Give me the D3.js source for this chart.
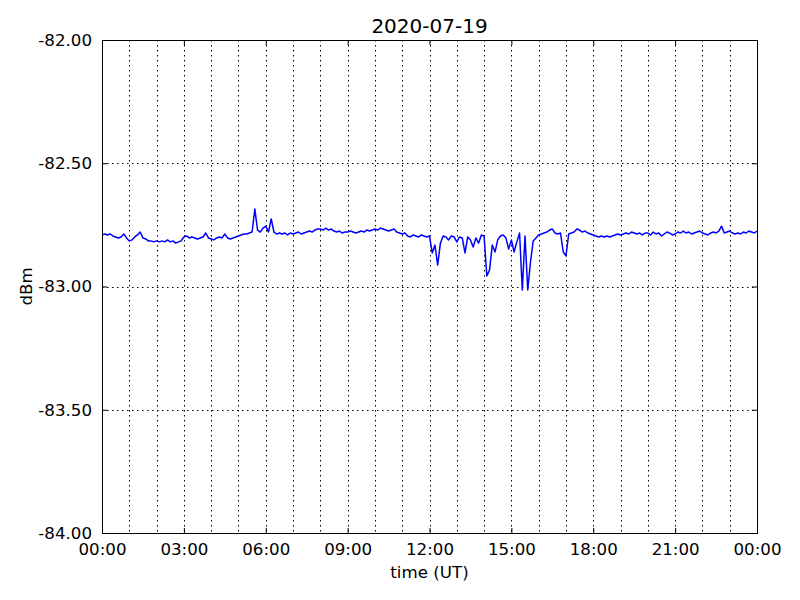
<!DOCTYPE html>
<html>
<head>
<meta charset="utf-8">
<script src="https://cdn.jsdelivr.net/npm/d3@7"></script>
<style>
  body { margin: 0; background: #fff; }
  svg text { font-family: "DejaVu Sans", sans-serif; fill: #000; }
</style>
</head>
<body>
<div id="chart"></div>
<script>
// one row per hour, samples every 6 minutes (dBm)
const hourRows = [
  [-82.791, -82.787, -82.791, -82.787, -82.795, -82.799, -82.803, -82.799, -82.787, -82.803],
  [-82.815, -82.811, -82.799, -82.791, -82.779, -82.803, -82.807, -82.815, -82.815, -82.819],
  [-82.815, -82.819, -82.815, -82.819, -82.811, -82.819, -82.815, -82.824, -82.819, -82.815],
  [-82.799, -82.795, -82.803, -82.799, -82.803, -82.807, -82.803, -82.799, -82.783, -82.803],
  [-82.807, -82.811, -82.803, -82.799, -82.803, -82.787, -82.803, -82.807, -82.803, -82.799],
  [-82.795, -82.791, -82.787, -82.787, -82.783, -82.779, -82.686, -82.771, -82.779, -82.763],
  [-82.755, -82.779, -82.726, -82.779, -82.787, -82.783, -82.787, -82.783, -82.791, -82.783],
  [-82.787, -82.783, -82.779, -82.787, -82.783, -82.779, -82.775, -82.779, -82.771, -82.767],
  [-82.767, -82.771, -82.763, -82.771, -82.767, -82.775, -82.779, -82.775, -82.783, -82.779],
  [-82.779, -82.775, -82.779, -82.783, -82.779, -82.775, -82.779, -82.771, -82.775, -82.771],
  [-82.767, -82.771, -82.763, -82.767, -82.771, -82.775, -82.771, -82.767, -82.779, -82.783],
  [-82.787, -82.783, -82.795, -82.799, -82.791, -82.795, -82.799, -82.791, -82.795, -82.799],
  [-82.795, -82.864, -82.832, -82.913, -82.824, -82.795, -82.799, -82.811, -82.795, -82.799],
  [-82.819, -82.799, -82.803, -82.864, -82.799, -82.811, -82.840, -82.803, -82.824, -82.791],
  [-82.795, -82.957, -82.933, -82.832, -82.860, -82.811, -82.795, -82.791, -82.803, -82.848],
  [-82.811, -82.860, -82.819, -82.783, -83.014, -82.795, -83.014, -82.901, -82.815, -82.803],
  [-82.791, -82.787, -82.783, -82.779, -82.771, -82.767, -82.783, -82.787, -82.783, -82.860],
  [-82.876, -82.787, -82.783, -82.779, -82.767, -82.771, -82.779, -82.775, -82.783, -82.787],
  [-82.791, -82.795, -82.799, -82.795, -82.799, -82.795, -82.799, -82.795, -82.791, -82.787],
  [-82.791, -82.787, -82.783, -82.787, -82.779, -82.783, -82.787, -82.783, -82.791, -82.783],
  [-82.783, -82.791, -82.779, -82.787, -82.783, -82.795, -82.787, -82.779, -82.783, -82.791],
  [-82.787, -82.779, -82.783, -82.775, -82.783, -82.779, -82.787, -82.783, -82.779, -82.775],
  [-82.783, -82.787, -82.791, -82.783, -82.779, -82.783, -82.775, -82.755, -82.783, -82.779],
  [-82.775, -82.783, -82.787, -82.783, -82.787, -82.779, -82.783, -82.775, -82.779, -82.783]
]
const lastValue = -82.775 // 24:00

const xTicks = [0, 3, 6, 9, 12, 15, 18, 21, 24]
const xTickLabels = ["00:00", "03:00", "06:00", "09:00", "12:00", "15:00", "18:00", "21:00", "00:00"]
const hourGrid = d3.range(0, 25)
const yTicks = [-84, -83.5, -83, -82.5, -82]
const yTickLabels = ["-84.00", "-83.50", "-83.00", "-82.50", "-82.00"]
const title = "2020-07-19"

const margin = { top: 40, right: 43, bottom: 67, left: 102 }
const width = 800 - margin.left - margin.right
const height = 600 - margin.top - margin.bottom

const data = []
hourRows.forEach((row, h) => {
  row.forEach((v, k) => data.push({ t: h + k / 10, v }))
})
data.push({ t: 24, v: lastValue })

const xScale = d3.scaleLinear().domain([0, 24]).range([0, width])
const yScale = d3.scaleLinear().domain([-84, -82]).range([height, 0])

const svg = d3
  .select("#chart")
  .append("svg")
  .attr("width", 800)
  .attr("height", 600)

const g = svg
  .append("g")
  .attr("transform", "translate(" + margin.left + "," + margin.top + ")")

// grid
g.append("g")
  .selectAll("line")
  .data(hourGrid.slice(1, -1))
  .enter()
  .append("line")
  .attr("x1", d => Math.round(xScale(d)) + 0.5)
  .attr("x2", d => Math.round(xScale(d)) + 0.5)
  .attr("y1", 0)
  .attr("y2", height)
  .attr("stroke", "#000")
  .attr("stroke-width", 1)
  .attr("stroke-dasharray", "1.5,3.5")
g.append("g")
  .selectAll("line")
  .data(yTicks.slice(1, -1))
  .enter()
  .append("line")
  .attr("x1", 0)
  .attr("x2", width)
  .attr("y1", d => Math.round(yScale(d)) + 0.5)
  .attr("y2", d => Math.round(yScale(d)) + 0.5)
  .attr("stroke", "#000")
  .attr("stroke-width", 1)
  .attr("stroke-dasharray", "1.5,3.5")

// data line
const line = d3
  .line()
  .x(d => xScale(d.t))
  .y(d => yScale(d.v))
g.append("path")
  .datum(data)
  .attr("fill", "none")
  .attr("stroke", "#0000ff")
  .attr("stroke-width", 1.5)
  .attr("stroke-linejoin", "round")
  .attr("d", line)

// axes (inward ticks on all sides)
g.append("g")
  .attr("transform", "translate(0," + height + ")")
  .call(
    d3
      .axisBottom(xScale)
      .tickValues(xTicks)
      .tickSize(-5)
      .tickPadding(10)
      .tickFormat((d, i) => xTickLabels[i])
  )
g.append("g").call(
  d3.axisTop(xScale).tickValues(xTicks).tickSize(-5).tickFormat("")
)
g.append("g").call(
  d3
    .axisLeft(yScale)
    .tickValues(yTicks)
    .tickSize(-5)
    .tickPadding(10)
    .tickFormat((d, i) => yTickLabels[i])
)
g.append("g")
  .attr("transform", "translate(" + width + ",0)")
  .call(d3.axisRight(yScale).tickValues(yTicks).tickSize(-5).tickFormat(""))

g.selectAll(".domain").attr("stroke", "none")
g.selectAll(".tick line").attr("stroke", "#000")
g.selectAll(".tick text")
  .style("font-size", "16.67px")
  .style("font-family", "DejaVu Sans, sans-serif")

g.append("rect")
  .attr("x", 0.5)
  .attr("y", 0.5)
  .attr("width", width)
  .attr("height", height)
  .attr("fill", "none")
  .attr("stroke", "#000")
  .attr("stroke-width", 1)

svg
  .append("text")
  .attr("x", margin.left + width / 2)
  .attr("y", 33)
  .attr("text-anchor", "middle")
  .style("font-size", "20px")
  .text(title)

svg
  .append("text")
  .attr("x", margin.left + width / 2)
  .attr("y", 578)
  .attr("text-anchor", "middle")
  .style("font-size", "16.67px")
  .text("time (UT)")

svg
  .append("text")
  .attr("transform", "translate(32," + (margin.top + height / 2) + ") rotate(-90)")
  .attr("text-anchor", "middle")
  .style("font-size", "16.67px")
  .text("dBm")
</script>
</body>
</html>
